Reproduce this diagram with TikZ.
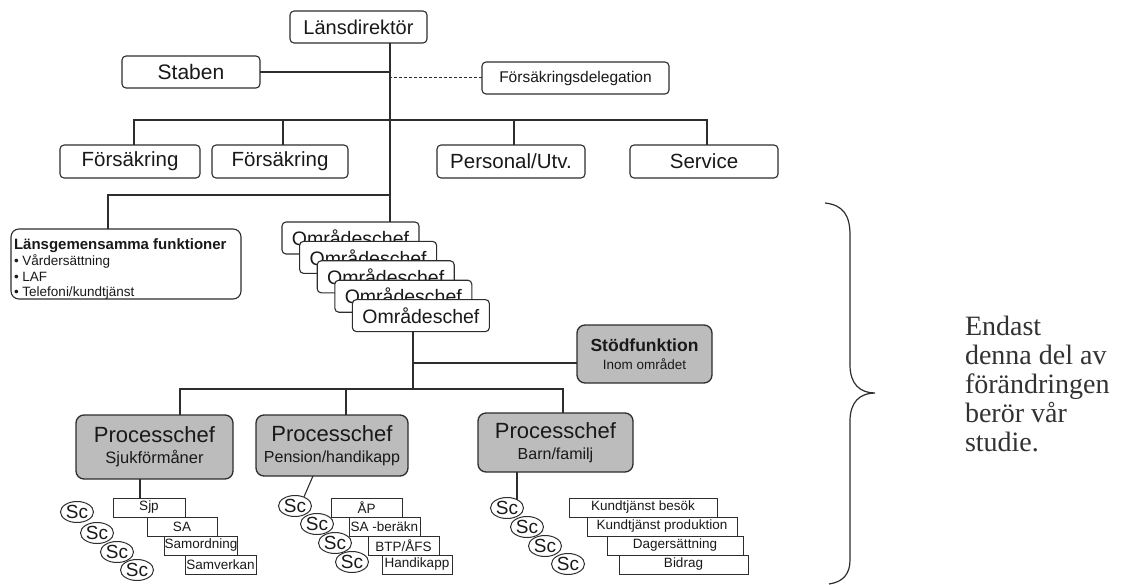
\documentclass[tikz,border=0pt]{standalone}
\usepackage{fontspec}
\setmainfont{Liberation Sans}
\newfontfamily\serifont{Liberation Serif}
\usetikzlibrary{shapes.geometric}
\definecolor{ln}{RGB}{45,45,45}
\definecolor{txt}{RGB}{25,25,25}
\definecolor{txtb}{RGB}{50,50,50}
\definecolor{pcfill}{RGB}{188,188,188}
\begin{document}
\begin{tikzpicture}[x=1pt,y=-1pt,
  every node/.style={inner sep=0pt, outer sep=0pt, text=txt},
  conn/.style={draw=ln, line width=1.1pt},
  rbox/.style={draw=ln, line width=1.1pt, rounded corners=4pt, fill=white},
  gbox/.style={draw=ln, line width=1.3pt, rounded corners=8pt, fill=pcfill, align=center},
  sbox/.style={draw=ln, line width=1pt, fill=white, font=\fontsize{13.5}{15}\selectfont},
  scell/.style={ellipse, draw=ln, line width=1pt, fill=white, minimum width=33pt, minimum height=21pt, font=\fontsize{19}{20}\selectfont},
  sz/.style 2 args={minimum width=#1pt, minimum height=#2pt}
]
\useasboundingbox (0,0) rectangle (1121,585);

% top level
\node[rbox, sz={137}{32}, font=\fontsize{20}{22}\selectfont] (lans) at (358.5,27) {Länsdirektör};
\node[rbox, sz={138}{32}, font=\fontsize{21}{23}\selectfont] (staben) at (191,72) {Staben};
\node[rbox, sz={187}{32}, font=\fontsize{15.5}{17}\selectfont] (deleg) at (575.5,78) {Försäkringsdelegation};
\node[rbox, sz={140}{33}, font=\fontsize{20.5}{22}\selectfont] (f1) at (130,161.5) {Försäkring};
\node[rbox, sz={136}{33}, font=\fontsize{20.5}{22}\selectfont] (f2) at (280,161.5) {Försäkring};
\node[rbox, sz={148}{33}, font=\fontsize{20.5}{22}\selectfont] (pers) at (511,161.5) {Personal/Utv.};
\node[rbox, sz={148}{33}, font=\fontsize{20.5}{22}\selectfont] (serv) at (704,161.5) {Service};

% länsgemensamma
\node[rbox, rounded corners=8pt, sz={230}{70}] (lgf) at (126,264) {};
\node[anchor=north west, align=left, font=\fontsize{13.5}{15.7}\selectfont] (lgft) at (14,239)
  {{\fontsize{15}{16}\selectfont\bfseries Länsgemensamma funktioner}\\
   • Vårdersättning\\ • LAF\\ • Telefoni/kundtjänst};

% områdeschefer
\foreach \i in {0,...,4}
  \node[rbox, sz={137}{32}, font=\fontsize{19.5}{21}\selectfont] (om\i) at (350.5+17.6*\i, 238+19.4*\i) {Områdeschef};

% stödfunktion
\node[gbox, sz={135}{58}, font=\fontsize{13.5}{18}\selectfont] (stod) at (644.5,354)
  {{\fontsize{17.5}{19}\selectfont\bfseries Stödfunktion}\\Inom området};

% processchefer
\node[gbox, sz={157}{64}, font=\fontsize{16.5}{21}\selectfont] (pc1) at (154.5,447)
  {{\fontsize{22}{24}\selectfont Processchef}\\Sjukförmåner};
\node[gbox, sz={152}{61}, font=\fontsize{16}{21}\selectfont] (pc2) at (332,445.5)
  {{\fontsize{22}{24}\selectfont Processchef}\\Pension/handikapp};
\node[gbox, sz={155}{59}, font=\fontsize{16}{21}\selectfont] (pc3) at (555.5,442.5)
  {{\fontsize{22}{24}\selectfont Processchef}\\Barn/familj};

% Sc ellipses
\node[scell] (s11) at (77,512) {Sc};
\node[scell] (s12) at (97,533) {Sc};
\node[scell] (s13) at (117,552) {Sc};
\node[scell] (s14) at (137,570) {Sc};
\node[scell] (s21) at (295,506) {Sc};
\node[scell] (s22) at (317,524) {Sc};
\node[scell] (s23) at (335,543) {Sc};
\node[scell] (s24) at (352,562) {Sc};
\node[scell] (s31) at (507,508) {Sc};
\node[scell] (s32) at (527,527) {Sc};
\node[scell] (s33) at (545,546) {Sc};
\node[scell] (s34) at (568,564) {Sc};

% small boxes
\node[sbox, sz={72}{19}] (sjp) at (149,507.5) {Sjp};
\node[sbox, sz={70}{19}] (sa) at (182,526.5) {SA};
\node[sbox, sz={72}{19}] (samo) at (201,545.5) {Samordning};
\node[sbox, sz={71}{19}] (samv) at (220.5,564.5) {Samverkan};
\node[sbox, sz={71}{19}] (ap) at (366.5,507.5) {ÅP};
\node[sbox, sz={71}{19}] (sab) at (384.5,526.5) {SA -beräkn};
\node[sbox, sz={71}{19}] (btp) at (403.5,545.5) {BTP/ÅFS};
\node[sbox, sz={70}{19}] (hand) at (417,564.5) {Handikapp};
\node[sbox, sz={148}{19}] (kb) at (643,507.5) {Kundtjänst besök};
\node[sbox, sz={150}{19}] (kp) at (662,526.5) {Kundtjänst produktion};
\node[sbox, sz={136}{19}] (dag) at (675,545.5) {Dagersättning};
\node[sbox, sz={129}{19}] (bid) at (683.5,564.5) {Bidrag};

% junctions
\coordinate (tr) at ([xshift=31.5]lans.south);
\coordinate (j1) at (390,120);
\coordinate (j2) at (390,195);
\coordinate (j3) at (413,389);
\coordinate (j4) at (413,363);

% connectors
\draw[conn] (tr) -- (tr |- om0.north);
\draw[conn] (staben.east) -- (staben.east -| tr);
\draw[draw=ln, line width=1pt, dash pattern=on 3pt off 2pt] (deleg.west) -- (deleg.west -| tr);
\draw[conn] ([xshift=4]f1.north) |- ([xshift=3]serv.north |- j1) -- ([xshift=3]serv.north);
\draw[conn] ([xshift=3]f2.north) -- ([xshift=3]f2.north |- j1);
\draw[conn] ([xshift=3]pers.north) -- ([xshift=3]pers.north |- j1);
\draw[conn] ([xshift=-18]lgf.north) |- (j2);
\draw[conn] (om4.south -| j3) -- (j3);
\draw[conn] (j4) -- (j4 -| stod.west);
\draw[conn] ([xshift=25.5]pc1.north) |- ([xshift=7.5]pc3.north |- j3) -- ([xshift=7.5]pc3.north);
\draw[conn] ([xshift=14]pc2.north) -- ([xshift=14]pc2.north |- j3);
\draw[conn] ([xshift=-9]sjp.north) -- ([xshift=-9]sjp.north |- pc1.south);
\draw[conn] ([xshift=-19]pc2.south) -- (s21.45);
\draw[conn] (s31.40) -- (s31.40 |- pc3.south);

% brace
\draw[draw=ln, line width=1.2pt] (825,203) .. controls (843,205) and (850,215) .. (850,235)
  -- (850,365) .. controls (850,384) and (860,393) .. (875,393)
  .. controls (860,393) and (850,402) .. (850,421)
  -- (850,560) .. controls (850,574) and (843,582) .. (829,584);

\node[anchor=north west, align=left, text=txtb, font=\serifont\fontsize{28}{29}\selectfont] (note) at (965,316)
  {Endast\\denna del av\\förändringen\\berör vår\\studie.};
\end{tikzpicture}
\end{document}
